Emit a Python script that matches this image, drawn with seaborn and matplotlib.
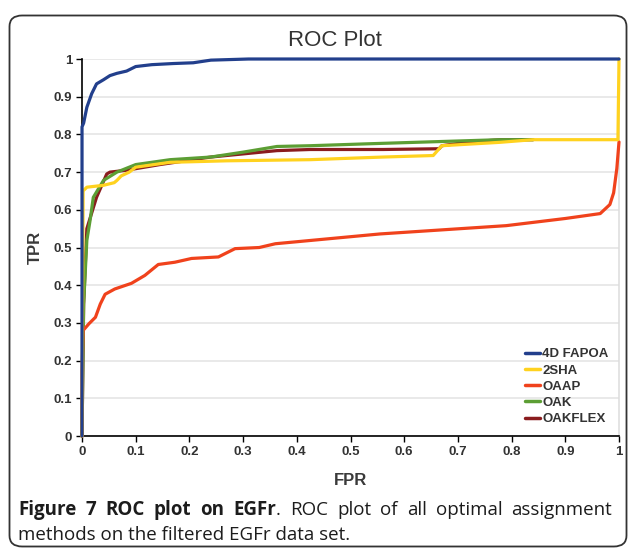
import numpy as np
import pandas as pd
import matplotlib
matplotlib.use("Agg")
import matplotlib.pyplot as plt
from matplotlib.lines import Line2D
from matplotlib.patches import FancyBboxPatch
import seaborn as sns

# ROC curves
methods = ["4D FAPOA", "2SHA", "OAAP", "OAK", "OAKFLEX"]
colors = ["#223f8c", "#ffd21f", "#f0421c", "#5c9e34", "#8a1c1e"]

fapoa_fpr = [0, 0, 0.003, 0.009, 0.018, 0.027, 0.04, 0.052, 0.065, 0.083, 0.10, 0.13, 0.17, 0.207, 0.24, 0.31, 1.0]
fapoa_tpr = [0, 0.82, 0.83, 0.872, 0.908, 0.934, 0.945, 0.956, 0.962, 0.968, 0.98, 0.985, 0.988, 0.99, 0.997, 1.0, 1.0]

sha_fpr = [0, 0.002, 0.009, 0.04, 0.06, 0.065, 0.073, 0.088, 0.10, 0.164, 0.27, 0.425, 0.561, 0.654, 0.67, 0.778, 0.84, 0.998, 1.0]
sha_tpr = [0, 0.65, 0.66, 0.665, 0.672, 0.678, 0.69, 0.70, 0.713, 0.726, 0.73, 0.733, 0.74, 0.744, 0.77, 0.779, 0.786, 0.786, 1.0]

oaap_fpr = [0, 0, 0.002, 0.013, 0.025, 0.034, 0.043, 0.061, 0.092, 0.117, 0.142, 0.173, 0.204, 0.254, 0.285,
            0.33, 0.36, 0.42, 0.555, 0.79, 0.90, 0.965, 0.983, 0.99, 0.996, 1.0]
oaap_tpr = [0, 0.17, 0.28, 0.298, 0.315, 0.35, 0.376, 0.39, 0.405, 0.426, 0.455, 0.461, 0.471, 0.475, 0.497,
            0.50, 0.51, 0.518, 0.536, 0.558, 0.577, 0.59, 0.614, 0.645, 0.71, 0.78]

oak_fpr = [0, 0.003, 0.009, 0.015, 0.021, 0.04, 0.065, 0.10, 0.164, 0.24, 0.30, 0.363, 0.425, 0.53, 0.778, 0.84]
oak_tpr = [0, 0.35, 0.519, 0.572, 0.633, 0.678, 0.70, 0.72, 0.733, 0.74, 0.753, 0.768, 0.77, 0.775, 0.786, 0.786]

oakflex_fpr = [0, 0.003, 0.009, 0.027, 0.046, 0.052, 0.083, 0.145, 0.24, 0.363, 0.425, 0.561, 0.665, 0.67, 0.72, 0.78, 0.84]
oakflex_tpr = [0, 0.35, 0.55, 0.633, 0.695, 0.70, 0.705, 0.72, 0.74, 0.757, 0.76, 0.76, 0.762, 0.77, 0.78, 0.786, 0.786]

ticks = [0, 0.1, 0.2, 0.3, 0.4, 0.5, 0.6, 0.7, 0.8, 0.9, 1]
tick_labels = ["0", "0.1", "0.2", "0.3", "0.4", "0.5", "0.6", "0.7", "0.8", "0.9", "1"]

# caption: first line is justified, words are lists of (text, bold) pieces
caption_line1 = [[("Figure", True)], [("7", True)], [("ROC", True)], [("plot", True)], [("on", True)],
                 [("EGFr", True), (".", False)], [("ROC", False)], [("plot", False)], [("of", False)],
                 [("all", False)], [("optimal", False)], [("assignment", False)]]
caption_line2 = "methods on the filtered EGFr data set."

curves = {
    "4D FAPOA": (fapoa_fpr, fapoa_tpr),
    "2SHA": (sha_fpr, sha_tpr),
    "OAAP": (oaap_fpr, oaap_tpr),
    "OAK": (oak_fpr, oak_tpr),
    "OAKFLEX": (oakflex_fpr, oakflex_tpr),
}
frames = []
for name in methods:
    fpr, tpr = curves[name]
    frames.append(pd.DataFrame({"FPR": fpr, "TPR": tpr, "method": name}))
df = pd.concat(frames, ignore_index=True)

sns.set_theme(style="white")
plt.rcParams["font.family"] = ["Liberation Sans", "DejaVu Sans"]

fig = plt.figure(figsize=(6.29, 5.52), dpi=100)
ax = fig.add_axes([0.1304, 0.2101, 0.8537, 0.6830])

palette = dict(zip(methods, colors))
sns.lineplot(data=df, x="FPR", y="TPR", hue="method", hue_order=methods, palette=palette,
             estimator=None, sort=False, linewidth=2.3, legend=False, ax=ax)

zorders = [6, 5, 4, 3.5, 3]
for line, z in zip(ax.lines, zorders):
    line.set_zorder(z)
    line.set_clip_on(False)

ax.set_xlim(0, 1)
ax.set_ylim(0, 1)
ax.set_xticks(ticks)
ax.set_xticklabels(tick_labels)
ax.set_yticks(ticks)
ax.set_yticklabels(tick_labels)
ax.yaxis.grid(True, color="#e3e3e3", linewidth=1.1)
ax.xaxis.grid(False)
ax.set_axisbelow(True)

for side in ["left", "bottom"]:
    ax.spines[side].set_color("black")
    ax.spines[side].set_linewidth(1.2)
ax.spines["top"].set_visible(False)
ax.spines["right"].set_color("#dcdcdc")
ax.spines["right"].set_linewidth(1.1)

ax.tick_params(axis="both", which="major", direction="out", length=4, width=1, color="black",
               labelsize=9.5, labelcolor="#333333", pad=3, bottom=True, left=True)
for lab in ax.get_xticklabels() + ax.get_yticklabels():
    lab.set_fontweight("bold")

ax.set_xlabel("FPR", fontsize=12, fontweight="bold", color="#3a3a3a", labelpad=11)
ax.set_ylabel("TPR", fontsize=12, fontweight="bold", color="#3a3a3a", labelpad=8)

handles = [Line2D([0], [0], color=c, linewidth=2.5) for c in colors]
ax.legend(handles, methods, loc="upper left", bbox_to_anchor=(0.825, 0.233), frameon=False,
          borderpad=0, borderaxespad=0, handlelength=1.1, handletextpad=0.2, labelspacing=0.3,
          prop={"size": 9.5, "weight": "bold"}, labelcolor="#333333")

fig.text(335 / 629, 1 - 45.5 / 552, "ROC Plot", fontsize=16, color="#333333", ha="center", va="baseline")

# rounded frame around the figure
frame = FancyBboxPatch((9.5 / 629, 5.5 / 552), 617 / 629, 531 / 552, transform=fig.transFigure,
                       boxstyle="round,pad=0,rounding_size=0.02", fill=False,
                       edgecolor="#333333", linewidth=1.3, clip_on=False)
fig.patches.append(frame)

# caption
cap_font = ["Open Sans", "DejaVu Sans"]
cap_size = 13.5
cap_color = "#1c1c1c"
left_px, right_px = 18, 612
y1 = 1 - 515 / 552
y2 = 1 - 539.5 / 552

fig.canvas.draw()
renderer = fig.canvas.get_renderer()
word_pieces = []
word_widths = []
for word in caption_line1:
    pieces = []
    w = 0
    for text, is_bold in word:
        t = fig.text(0, y1, text, fontsize=cap_size, family=cap_font, color=cap_color,
                     fontweight="bold" if is_bold else "normal", va="baseline")
        pw = t.get_window_extent(renderer=renderer).width
        pieces.append((t, pw))
        w += pw
    word_pieces.append(pieces)
    word_widths.append(w)
gap = (right_px - left_px - sum(word_widths)) / (len(word_widths) - 1)
x = left_px
for pieces, w in zip(word_pieces, word_widths):
    px = x
    for t, pw in pieces:
        t.set_x(px / 629)
        px += pw
    x += w + gap

fig.text(left_px / 629, y2, caption_line2, fontsize=cap_size, family=cap_font, color=cap_color,
         va="baseline")

fig.savefig("out.png", dpi=100)
